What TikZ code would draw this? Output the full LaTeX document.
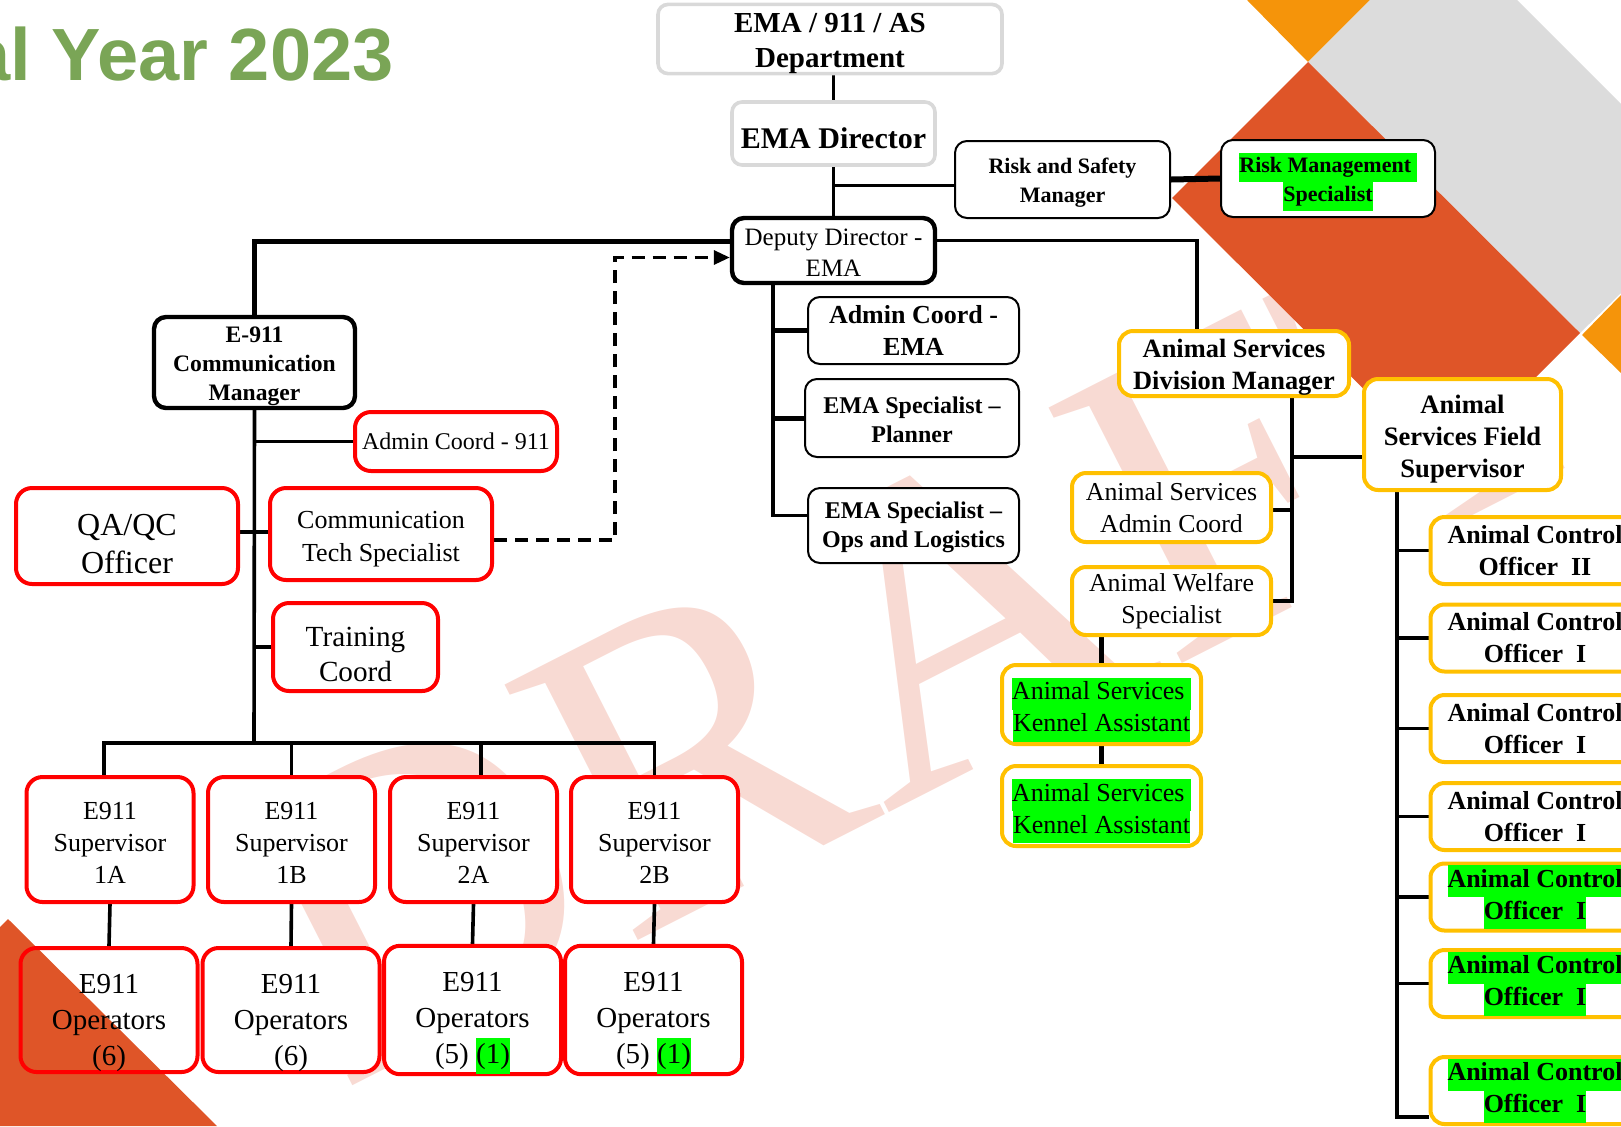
\documentclass[tikz,border=0pt]{standalone}
\usepackage{fontspec}
\setmainfont{Liberation Serif}
\newfontfamily\titlefont{Liberation Sans}
\usetikzlibrary{arrows.meta,calc}
\pgfdeclarelayer{bg}
\pgfsetlayers{bg,main}
\definecolor{boxgray}{HTML}{D9D9D9}
\definecolor{yel}{HTML}{FFC000}
\definecolor{hlgreen}{HTML}{00FF00}
\definecolor{bgorange}{HTML}{F5940A}
\definecolor{bggray}{HTML}{DCDCDC}
\definecolor{bgred}{HTML}{DF5528}
\definecolor{wmpink}{HTML}{F8DAD3}
\definecolor{titlegreen}{HTML}{7AA556}
\newcommand\fsz[2]{\fontsize{#1}{#2}\selectfont}
\newcommand\hl[1]{{\setlength{\fboxsep}{0pt}\colorbox{hlgreen}{\strut#1}}}
\newcommand\dnl[1]{\rule{0pt}{#1}}
\begin{document}
\begin{tikzpicture}[x=0.5pt,y=-0.5pt,
  base/.style={inner sep=0pt, align=center, fill=white, text=black},
  graybox/.style={base, draw=boxgray, line width=1.8pt, rounded corners=5pt},
  blkthin/.style={base, draw=black, line width=1pt, rounded corners=6pt},
  blkthick/.style={base, draw=black, line width=2.2pt, rounded corners=6pt},
  redbox/.style={base, draw=red, line width=2pt, rounded corners=8pt},
  yelbox/.style={base, draw=yel, line width=2pt, rounded corners=7pt},
  supbox/.style={redbox, minimum width=83.5pt, minimum height=62.5pt, font=\fsz{13}{16}},
  opbox/.style={redbox, minimum width=88.5pt, minimum height=62pt, font=\fsz{14.5}{18}},
  acobox/.style={yelbox, minimum width=104.5pt, minimum height=33.5pt, font=\bfseries\fsz{13}{16}},
  conn/.style={draw=black, line width=1.8pt},
  dasharrow/.style={draw=black, line width=1.6pt, dash pattern=on 6.5pt off 4pt, -{Triangle[length=8pt,width=7pt]}}
]
\useasboundingbox (0,0) rectangle (1621,1126);

% ---------- nodes ----------
\node[anchor=base east, inner sep=0pt, font=\titlefont\bfseries\fsz{37}{37}, text=titlegreen] (title) at (394,80) {al Year 2023};

\node[graybox, minimum width=172pt, minimum height=34pt, font=\bfseries\fsz{14.5}{17.5}] (dept) at (830,39) {\dnl{14pt}EMA / 911 / AS\\Department};
\node[graybox, minimum width=101.5pt, minimum height=31.5pt, font=\bfseries\fsz{15}{18}] (dir) at (833.5,133.5) {\dnl{15.4pt}EMA Director};
\node[blkthin, minimum width=107.5pt, minimum height=38.5pt, font=\bfseries\fsz{11}{14.5}] (rsm) at (1062.5,179.5) {\dnl{10.6pt}Risk and Safety\\Manager};
\node[blkthin, minimum width=107pt, minimum height=38.5pt, font=\bfseries\fsz{11}{14.5}] (rms) at (1328,178.5) {\dnl{13.2pt}\hl{Risk Management }\\\hl{Specialist}};
\node[blkthick, minimum width=101.5pt, minimum height=32.5pt, font=\fsz{12.5}{15.5}] (dep) at (833.5,250.5) {\dnl{10.6pt}Deputy Director -\\EMA};
\node[blkthin, minimum width=105.5pt, minimum height=33.5pt, font=\bfseries\fsz{13}{16}] (ace) at (913.5,330.5) {Admin Coord -\\EMA};
\node[blkthin, minimum width=107pt, minimum height=39pt, font=\bfseries\fsz{12}{14.5}] (plan) at (912,418) {\dnl{10pt}EMA Specialist --\\Planner};
\node[blkthin, minimum width=105.5pt, minimum height=37.5pt, font=\bfseries\fsz{12}{14.5}] (ops) at (913.5,525.5) {\dnl{10pt}EMA Specialist --\\Ops and Logistics};

\node[blkthick, minimum width=100.5pt, minimum height=45.5pt, font=\bfseries\fsz{11.8}{14.5}] (e911) at (254.5,362.5) {\dnl{12pt}E-911\\Communication\\Manager};
\node[redbox, minimum width=101pt, minimum height=29.5pt, font=\fsz{12}{14}] (ac911) at (456,441.5) {Admin Coord - 911};
\node[redbox, minimum width=111pt, minimum height=48pt, font=\fsz{16}{19}] (qa) at (127,536) {\dnl{19.1pt}QA/QC\\Officer};
\node[redbox, minimum width=111pt, minimum height=46pt, font=\fsz{13}{16.5}] (cts) at (381,534) {\dnl{13.9pt}Communication\\Tech Specialist};
\node[redbox, minimum width=82.5pt, minimum height=44pt, font=\fsz{14.6}{17.5}] (tc) at (355.5,647) {\dnl{17pt}Training\\Coord};

\node[supbox] (s1) at (110,839.5) {\dnl{11.8pt}E911\\Supervisor\\1A};
\node[supbox] (s2) at (291.5,839.5) {\dnl{11.8pt}E911\\Supervisor\\1B};
\node[supbox] (s3) at (473.5,839.5) {\dnl{11.8pt}E911\\Supervisor\\2A};
\node[supbox] (s4) at (654.5,839.5) {\dnl{11.8pt}E911\\Supervisor\\2B};
\node[opbox, fill=none] (o1) at (109,1010) {\dnl{22.8pt}E911\\Operators\\(6)};
\node[opbox] (o2) at (291,1010) {\dnl{22.8pt}E911\\Operators\\(6)};
\node[opbox] (o3) at (472.5,1010) {\dnl{22.8pt}E911\\Operators\\(5) \hl{(1)}};
\node[opbox] (o4) at (653.5,1010) {\dnl{22.8pt}E911\\Operators\\(5) \hl{(1)}};

\node[yelbox, minimum width=115pt, minimum height=32.5pt, font=\bfseries\fsz{13.2}{16}] (asdm) at (1234,363.5) {\dnl{13.1pt}Animal Services\\Division Manager};
\node[yelbox, minimum width=98.5pt, minimum height=55.5pt, font=\bfseries\fsz{13.3}{16}] (asfs) at (1462.5,434.5) {\dnl{13.7pt}Animal\\Services Field\\Supervisor};
\node[yelbox, minimum width=99.5pt, minimum height=34.5pt, font=\fsz{12.9}{16}] (asac) at (1171.5,507.5) {Animal Services\\Admin Coord};
\node[yelbox, minimum width=99.5pt, minimum height=34pt, font=\fsz{12.9}{16}] (aws) at (1171.5,601) {Animal Welfare\\Specialist};
\node[yelbox, minimum width=99.5pt, minimum height=39.5pt, font=\fsz{13}{16}] (ka1) at (1101.5,704.5) {\dnl{16.2pt}\hl{Animal Services }\\\hl{Kennel Assistant}};
\node[yelbox, minimum width=99.5pt, minimum height=40pt, font=\fsz{13}{16}] (ka2) at (1101.5,806) {\dnl{16.2pt}\hl{Animal Services }\\\hl{Kennel Assistant}};

\node[acobox] (aco1) at (1535,550.5) {Animal Control\\Officer\enspace II};
\node[acobox] (aco2) at (1535,638) {Animal Control\\Officer\enspace I};
\node[acobox] (aco3) at (1535,728.5) {Animal Control\\Officer\enspace I};
\node[acobox] (aco4) at (1535,816.5) {Animal Control\\Officer\enspace I};
\node[acobox] (aco5) at (1535,897) {\hl{Animal Control}\\\hl{Officer\enspace I}};
\node[acobox] (aco6) at (1535,983.5) {\hl{Animal Control}\\\hl{Officer\enspace I}};
\node[acobox] (aco7) at (1535,1090.5) {\hl{Animal Control}\\\hl{Officer\enspace I}};

% ---------- background and connectors ----------
\begin{pgfonlayer}{bg}
\node[rotate=27, anchor=base west, inner sep=0pt, font=\fsz{220}{220}, text=wmpink] (wm) at (341,1092) {DRAFT};
\fill[bgorange] (1247,0) -- (1370,0) -- (1308,62) -- cycle;
\fill[bggray] (1370,0) -- (1517,0) -- (1621,104) -- (1621,293) -- (1580,333) -- (1308,62) -- cycle;
\fill[bgred] (1308,62) -- (1580,333) -- (1444,469) -- (1172,198) -- cycle;
\fill[bgorange] (1621,295) -- (1582,335) -- (1621,373) -- cycle;
\fill[bgred] (0,927) -- (8,919) -- (217,1126) -- (0,1126) -- cycle;

\draw[conn] (dir.north) -- (dir.north |- dept.south);
\draw[conn] (dir.south) -- (dep.north);
\draw[conn] ([yshift=-3pt]rsm.west) -- ([yshift=-3pt]rsm.west -| dir.south);
\draw[conn, line width=3pt] (rsm.east) -- (rms.west);
\draw[conn, line width=2.3pt] ([yshift=4.5pt]dep.west) -| (e911.north);
\draw[conn] ([yshift=5pt]dep.east) -| ([xshift=-18.5pt]asdm.north);
\draw[dasharrow] ([yshift=-3pt]cts.east) -- ++(121,0) |- ([yshift=-3.5pt]dep.west);

\coordinate (depx) at (773,283);
\draw[conn] (depx) |- ([yshift=5pt]ops.west);
\draw[conn, line width=2.5pt] (ace.west) -- (ace.west -| depx);
\draw[conn, line width=2.5pt] (plan.west) -- (plan.west -| depx);

\coordinate (bus) at (254,743);
\draw[conn] (e911.south) -- (bus);
\draw[conn] ([xshift=-3pt]s1.north) |- (s4.north |- bus) -- (s4.north);
\draw[conn] (s2.north) -- (s2.north |- bus);
\draw[conn] ([xshift=3.75pt]s3.north) -- ([xshift=3.75pt]s3.north |- bus);
\draw[conn] (ac911.west) -- (ac911.west -| bus);
\draw[conn] ([yshift=2pt]qa.east) -- ([yshift=1pt]cts.west);
\draw[conn] (tc.west) -- (tc.west -| bus);
\draw[conn] (s1.south) -- (o1.north);
\draw[conn] (s2.south) -- (o2.north);
\draw[conn] (s3.south) -- (o3.north);
\draw[conn] (s4.south) -- (o4.north);

\coordinate (asx) at (1292,396);
\draw[conn] (asx) |- (aws.east);
\draw[conn] ([yshift=-11.25pt]asfs.west) -- ([yshift=-11.25pt]asfs.west -| asx);
\draw[conn] ([yshift=-1.25pt]asac.east) -- ([yshift=-1.25pt]asac.east -| asx);
\draw[conn, line width=2.8pt] (ka1.north |- aws.south) -- (ka1.north);
\draw[conn, line width=2.8pt] (ka1.south) -- (ka2.north);

\coordinate (fsx) at (1397,490);
\draw[conn] (fsx) |- ([yshift=-13.25pt]aco7.west);
\draw[conn] (aco1.west) -- (aco1.west -| fsx);
\draw[conn] (aco2.west) -- (aco2.west -| fsx);
\draw[conn] (aco3.west) -- (aco3.west -| fsx);
\draw[conn] (aco4.west) -- (aco4.west -| fsx);
\draw[conn] (aco5.west) -- (aco5.west -| fsx);
\draw[conn] (aco6.west) -- (aco6.west -| fsx);
\end{pgfonlayer}
\end{tikzpicture}
\end{document}
